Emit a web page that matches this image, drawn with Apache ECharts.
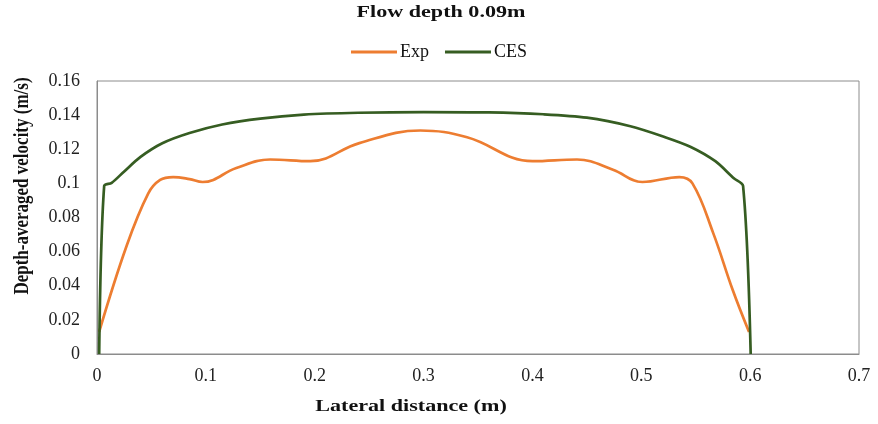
<!DOCTYPE html>
<html>
<head>
<meta charset="utf-8">
<script src="https://cdn.jsdelivr.net/npm/echarts@6/dist/echarts.min.js"></script>
<style>
  html, body { margin: 0; padding: 0; background: #fff; }
  #chart { width: 878px; height: 424px; }
</style>
</head>
<body>
<div id="chart"></div>
<script>
// values
const expX = [0.002, 0.027, 0.047, 0.058, 0.070, 0.085, 0.097, 0.128, 0.159, 0.196, 0.241, 0.297, 0.340, 0.400, 0.441, 0.474, 0.501, 0.535, 0.547, 0.566, 0.584, 0.599]
const expY = [0.013, 0.063, 0.094, 0.102, 0.1037, 0.1025, 0.1008, 0.109, 0.114, 0.113, 0.1236, 0.131, 0.127, 0.113, 0.114, 0.108, 0.1008, 0.1037, 0.100, 0.071, 0.0375, 0.0129]
const cesX = [0.002, 0.0066, 0.0135, 0.025, 0.040, 0.060, 0.085, 0.115, 0.150, 0.190, 0.240, 0.300, 0.360, 0.410, 0.450, 0.490, 0.520, 0.545, 0.568, 0.585, 0.5935, 0.6005]
const cesY = [0, 0.0985, 0.1003, 0.107, 0.1155, 0.1235, 0.1295, 0.1345, 0.138, 0.1403, 0.1414, 0.1418, 0.1416, 0.1405, 0.1385, 0.1335, 0.1275, 0.1215, 0.113, 0.103, 0.0985, 0]

const serif = '"Liberation Serif", "Times New Roman", serif'
const zip = (xs, ys) => xs.map((x, i) => [x, ys[i]])

const chart = echarts.init(document.getElementById('chart'))
chart.setOption({
  animation: false,
  legend: {
    top: 38,
    left: 'center',
    itemWidth: 46,
    itemHeight: 3,
    itemGap: 16,
    icon: 'rect',
    textStyle: { fontFamily: serif, fontSize: 18, color: '#111', padding: [0, 0, 0, -2] },
    data: ['Exp', 'CES']
  },
  grid: {
    left: 97,
    right: 19,
    top: 81,
    bottom: 70,
    show: true,
    borderColor: '#8c8c8c',
    borderWidth: 1
  },
  xAxis: {
    type: 'value',
    min: 0,
    max: 0.7,
    interval: 0.1,
    splitLine: { show: false },
    axisTick: { show: false },
    axisLine: { lineStyle: { color: '#8c8c8c' } },
    axisLabel: { fontFamily: serif, fontSize: 18, color: '#222', margin: 13 }
  },
  yAxis: {
    type: 'value',
    min: 0,
    max: 0.16,
    interval: 0.02,
    splitLine: { show: false },
    axisTick: { show: false },
    axisLine: { show: true, lineStyle: { color: '#8c8c8c' } },
    axisLabel: { fontFamily: serif, fontSize: 18, color: '#222', margin: 17 }
  },
  graphic: [
    {
      type: 'text',
      x: 441,
      y: 4,
      scaleX: 1.3,
      style: { text: 'Flow depth 0.09m', font: 'bold 17px ' + serif, fill: '#111', align: 'center' }
    },
    {
      type: 'text',
      x: 411,
      y: 398,
      scaleX: 1.3,
      style: { text: 'Lateral distance (m)', font: 'bold 17px ' + serif, fill: '#111', align: 'center' }
    },
    {
      type: 'text',
      x: 13,
      y: 186,
      rotation: Math.PI / 2,
      scaleY: 1.2,
      style: { text: 'Depth-averaged velocity (m/s)', font: 'bold 17px ' + serif, fill: '#111', align: 'center' }
    }
  ],
  series: [
    {
      name: 'Exp',
      type: 'line',
      data: zip(expX, expY),
      smooth: 0.4,
      showSymbol: false,
      lineStyle: { color: '#ED7D31', width: 2.7 },
      itemStyle: { color: '#ED7D31' }
    },
    {
      name: 'CES',
      type: 'line',
      data: zip(cesX, cesY),
      smooth: 0.3,
      showSymbol: false,
      lineStyle: { color: '#365D22', width: 2.7 },
      itemStyle: { color: '#365D22' }
    }
  ]
})
</script>
</body>
</html>
